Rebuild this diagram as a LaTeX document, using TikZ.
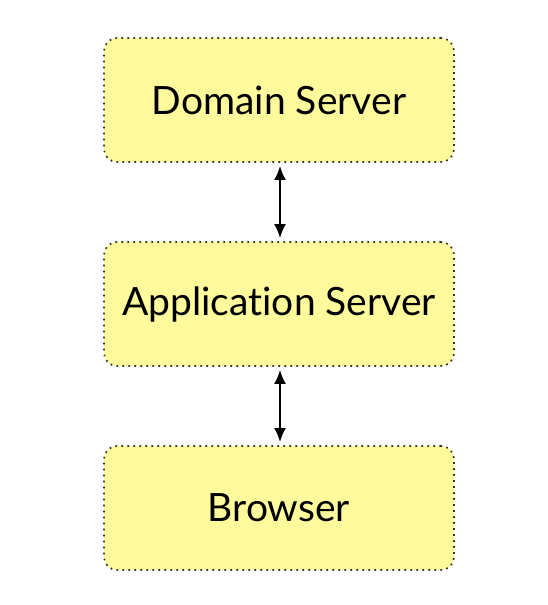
\documentclass[tikz,border=0pt]{standalone}
\usepackage{fontspec}
\setmainfont{Lato}[Ligatures=NoCommon]
\usetikzlibrary{arrows.meta}
\definecolor{boxfill}{RGB}{255,250,155}
\definecolor{boxline}{RGB}{50,50,40}
\tikzset{
  tier/.style={draw=boxline, fill=boxfill, line width=1.7pt, dash pattern=on 1.7pt off 4.3pt,
    rounded corners=13pt, minimum width=350pt, minimum height=124pt, inner sep=0pt,
    font=\fontsize{39}{42}\selectfont},
  link/.style={{Latex[length=14pt,width=12pt]}-{Latex[length=14pt,width=12pt]}, line width=2.4pt, shorten <=3pt, shorten >=3pt}
}
\begin{document}
\begin{tikzpicture}[x=1pt,y=1pt]
\useasboundingbox (0,0) rectangle (548,605);
\node[tier] (dom) at (279,505) {\raisebox{-3pt}{Domain Server}};
\node[tier] (app) at (279,301) {\raisebox{-3pt}{Application Server}};
\node[tier] (brw) at (279,97) {\raisebox{-3pt}{Browser}};
\draw[link] ([xshift=1pt]dom.south) -- ([xshift=1pt]app.north);
\draw[link] ([xshift=1pt]app.south) -- ([xshift=1pt]brw.north);
\end{tikzpicture}
\end{document}
